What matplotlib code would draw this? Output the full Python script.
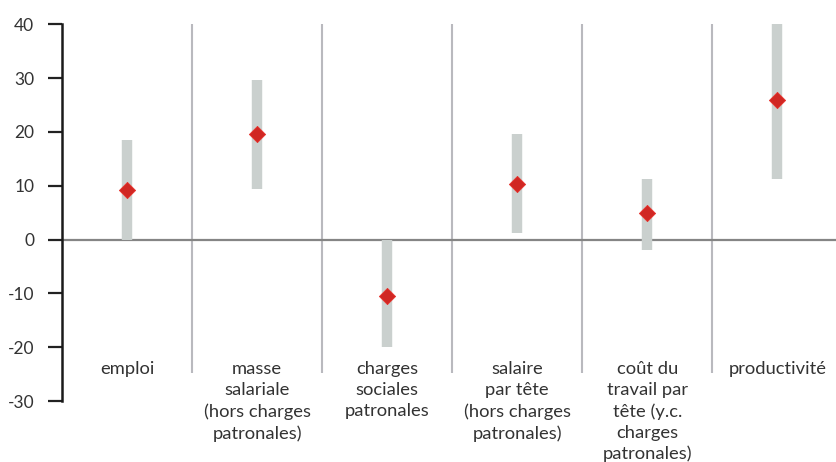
import matplotlib.pyplot as plt

categories = [
    "emploi",
    "masse\nsalariale\n(hors charges\npatronales)",
    "charges\nsociales\npatronales",
    "salaire\npar tête\n(hors charges\npatronales)",
    "coût du\ntravail par\ntête (y.c.\ncharges\npatronales)",
    "productivité",
]
range_low = [0.0, 9.3, -20.0, 1.2, -2.0, 11.3]
range_high = [18.5, 29.7, 0.0, 19.6, 11.2, 40.0]
central = [9.2, 19.6, -10.5, 10.3, 5.0, 26.0]
yticks = [-30, -20, -10, 0, 10, 20, 30, 40]

plt.rcParams["font.family"] = ["Lato", "DejaVu Sans"]
plt.rcParams["axes.unicode_minus"] = False

fig = plt.figure(figsize=(8.36, 4.62), dpi=100)
ax = fig.add_axes([0.0742, 0.132, 0.9258, 0.8155])

xs = [i + 0.5 for i in range(len(categories))]

# separators between categories
ax.vlines(range(1, len(categories)), -24.8, 40, color="#b9b9be", lw=1.5, zorder=1)

# zero line
ax.axhline(0, color="#858585", lw=1.6, zorder=2)

# ranges
ax.vlines(xs, range_low, range_high, color="#cad0ce", lw=7.5, zorder=3)

# central estimates
ax.scatter(xs, central, marker="D", s=68, color="#d02824", edgecolors="#e8302a",
           linewidths=0.6, zorder=4)

for x, label in zip(xs, categories):
    ax.text(x, -22.6, label, ha="center", va="top", fontsize=13.2,
            color="#333333", linespacing=1.38)

ax.set_xlim(0, 5.95)
ax.set_ylim(-30, 40)
ax.set_yticks(yticks)
ax.set_xticks([])
ax.tick_params(axis="y", length=10, width=1.6, pad=10, labelsize=12.5, colors="#222222")
ax.tick_params(axis="y", labelcolor="#333333")

for side in ["top", "right", "bottom"]:
    ax.spines[side].set_visible(False)
ax.spines["left"].set_linewidth(1.8)
ax.spines["left"].set_color("#1a1a1a")

fig.savefig("out.png", dpi=100)
